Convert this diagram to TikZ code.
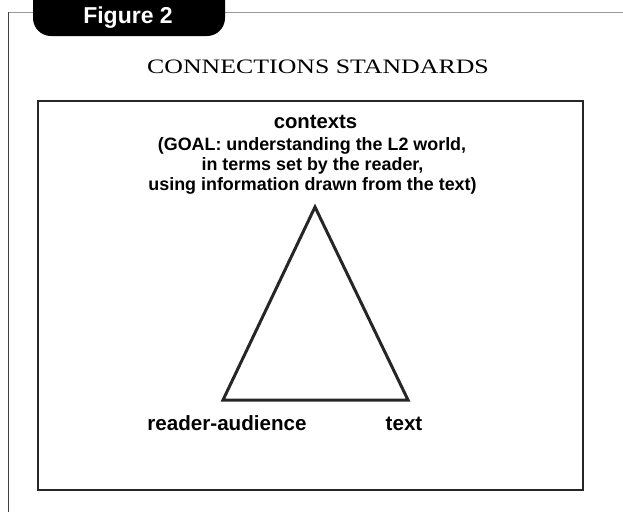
\documentclass[tikz,border=0pt]{standalone}
\usepackage{fontspec}
\setmainfont{Liberation Serif}
\setsansfont{Liberation Sans}
\begin{document}
\begin{tikzpicture}[x=1pt,y=-1pt,
  lbl/.style={font=\sffamily\bfseries\fontsize{17.9}{20}\selectfont, inner sep=0pt, anchor=base},
  vlbl/.style={font=\sffamily\bfseries\fontsize{20.6}{22}\selectfont, inner sep=0pt, anchor=base},
  tri/.style={draw=black!85, line width=3pt, line join=miter}]
\useasboundingbox (0,0) rectangle (623,512);
% outer frame
\draw[black!40, line width=1pt] (8.5,12) -- (623,12);
\draw[black!75, line width=1pt] (8.5,12) -- (8.5,512);
% tab
\fill[black, rounded corners=18pt] (33,-30) rectangle (225,36);
\node[text=white, font=\sffamily\bfseries\fontsize{23}{26}\selectfont, inner sep=0pt, anchor=base] (tab) at (128,23) {Figure 2};
% title
\node[font=\fontsize{20.5}{24}\selectfont, inner sep=0pt, anchor=base] (title) at (318,73) {\scalebox{1.26}[1]{CONNECTIONS STANDARDS}};
% inner box
\draw[black!85, line width=1.2pt] (38,101) rectangle (583,490);
% contexts
\node[vlbl, font=\sffamily\bfseries\fontsize{20.3}{22}\selectfont] (ctx) at (315.5,128) {contexts};
\node[lbl] (goal1) at (312,150.5) {(GOAL: understanding the L2 world,};
\node[lbl] (goal2) at (312.5,170.5) {in terms set by the reader,};
\node[lbl] (goal3) at (312.5,190.5) {using information drawn from the text)};
% triangle
\coordinate (apex) at (315,207);
\coordinate (bl) at (223,400);
\coordinate (br) at (408,400);
\draw[tri] (apex) -- (bl) -- (br) -- cycle;
\node[vlbl] (reader) at (227,430) {reader-audience};
\node[vlbl] (text) at (404,430) {text};
\end{tikzpicture}
\end{document}
